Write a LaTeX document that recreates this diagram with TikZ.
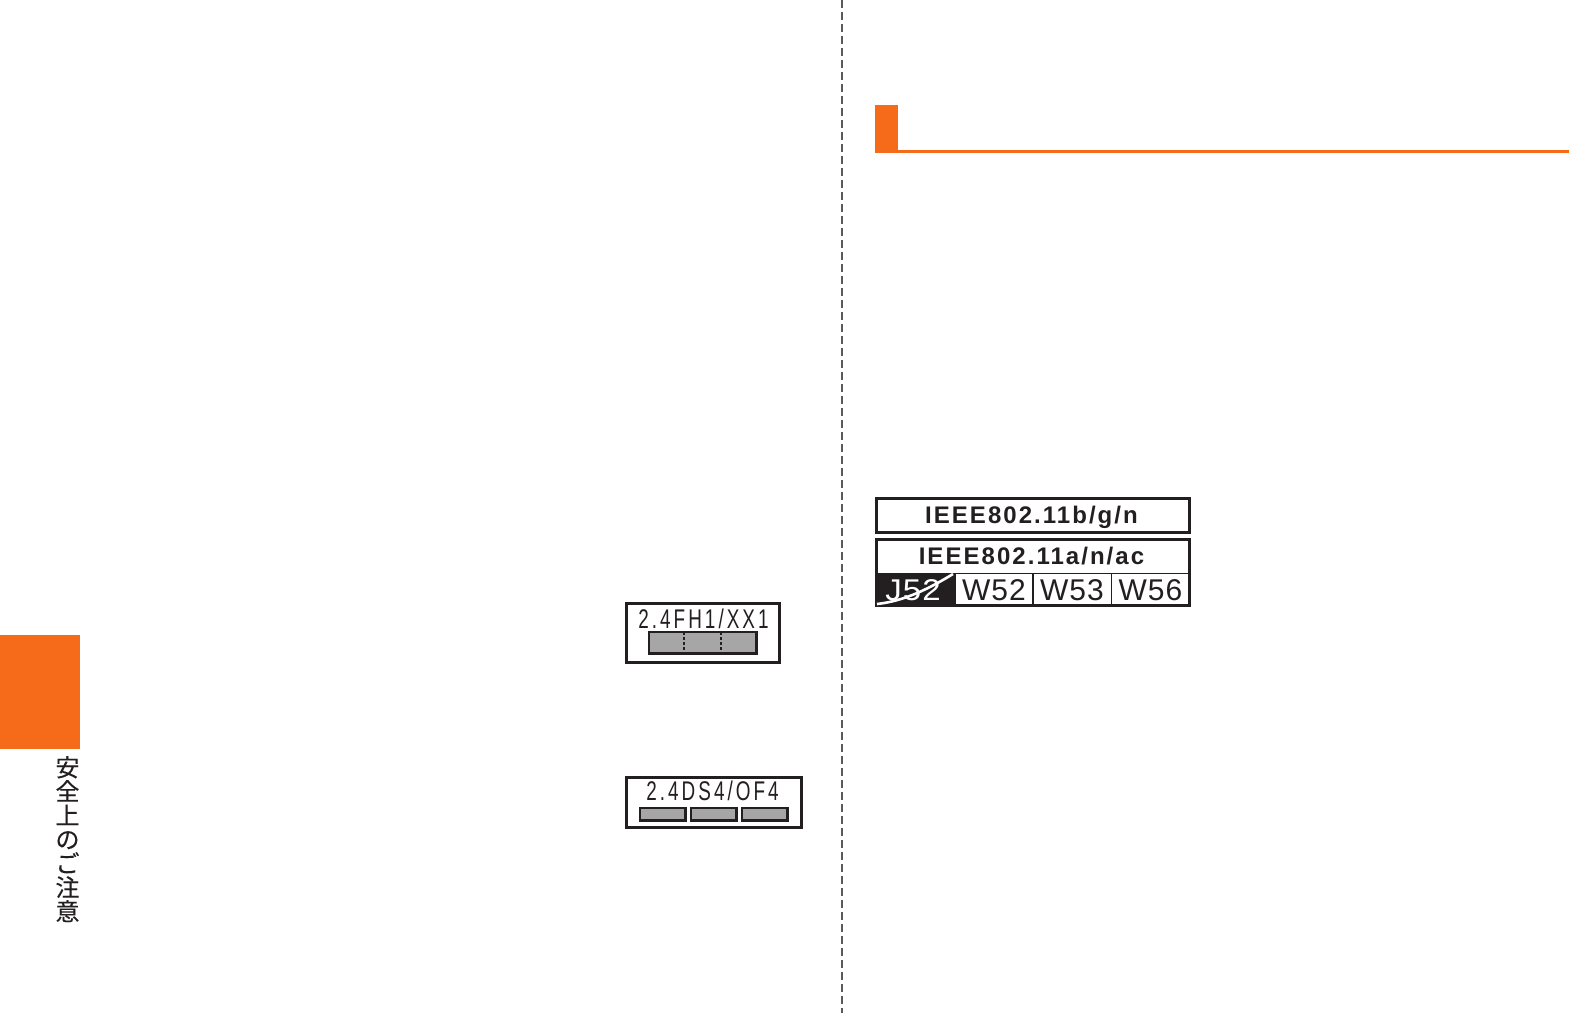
\documentclass[tikz,border=0pt]{standalone}
\usepackage{fontspec}
\setmainfont{Liberation Sans}
\newfontfamily\cjk[FakeBold=0.25]{Noto Sans CJK JP}
\newfontfamily\bandfont[LetterSpace=16]{Liberation Sans}
\newfontfamily\ieeefont[LetterSpace=8.5]{Liberation Sans}
\newfontfamily\wfont[LetterSpace=3.5]{Liberation Sans}
\definecolor{tabor}{HTML}{F56B19}
\definecolor{bargray}{HTML}{A6A6A6}
\definecolor{ink}{HTML}{231F20}
\definecolor{foldgray}{HTML}{5A5A5A}
\tikzset{
  x=1pt,y=-1pt,
  frame/.style={draw=ink,line width=2.6pt,fill=white},
  bar/.style={draw=ink,line width=2.6pt,fill=bargray},
  band/.style={inner sep=0pt,text=ink,font=\fontsize{27}{27}\bandfont,xscale=0.70,anchor=base},
  ieee/.style={inner sep=0pt,text=ink,font=\fontsize{24}{24}\ieeefont\bfseries,anchor=base},
  wlabel/.style={inner sep=0pt,text=ink,font=\fontsize{30}{30}\wfont,anchor=base},
  rule/.style={draw=ink,line width=1.8pt},
}
\begin{document}
\begin{tikzpicture}
\useasboundingbox (0,0) rectangle (1569,1013);
\fill[white] (0,0) rectangle (1569,1013);
% fold line
\draw[draw=foldgray,line width=1.7pt,dash pattern=on 8pt off 4pt] (841.7,0) -- (841.7,1013);
% heading block
\fill[tabor] (875,105) rectangle (898,153);
\fill[tabor] (898,150) rectangle (1569,153);
% side tab
\fill[tabor] (0,634.6) rectangle (80,748.6);
\node[inner sep=0pt,anchor=north,text=ink,align=center,font=\fontsize{24}{24}\cjk] (tab) at (67.5,756) {安\\全\\上\\の\\ご\\注\\意};
% FH band label
\draw[frame] (626.3,603.3) rectangle (779.7,662.6);
\node[band] (fh) at (703.5,628) {2.4FH1/XX1};
\draw[bar] (649,632) rectangle (756.5,653.4);
\draw[draw=ink,line width=1.8pt,dash pattern=on 3pt off 2pt] (684,632) -- (684,653);
\draw[draw=ink,line width=1.8pt,dash pattern=on 3pt off 2pt] (721,632) -- (721,653);
% DS/OF band label
\draw[frame] (626.3,777.3) rectangle (801.5,827.2);
\node[band] (ds) at (712.5,800.5) {2.4DS4/OF4};
\draw[bar] (640,808) rectangle (685.5,820.5);
\draw[bar] (691,808) rectangle (736.5,820.5);
\draw[bar] (742,808) rectangle (787.5,820.5);
% IEEE b/g/n
\draw[frame] (876.2,498.3) rectangle (1189.4,532.4);
\node[ieee] (bgn) at (1031.5,523) {IEEE802.11b/g/n};
% IEEE a/n/ac
\draw[frame] (876.2,539.3) rectangle (1189.4,605.2);
\node[ieee] (anac) at (1031.5,564) {IEEE802.11a/n/ac};
\fill[ink] (875,573) rectangle (955.5,606.6);
\draw[rule] (955,573.4) -- (1189,573.4);
\draw[rule] (1032.7,573) -- (1032.7,605);
\draw[rule] (1111.5,573) -- (1111.5,605);
\node[wlabel,text=white,xscale=1.1] (j52) at (913,600) {J52};
\draw[draw=white,line width=2.6pt] (877,604) .. controls (905,601) and (930,588) .. (953,574);
\node[wlabel] (w52) at (994,600.5) {W52};
\node[wlabel] (w53) at (1072,600.5) {W53};
\node[wlabel] (w56) at (1150.5,600.5) {W56};
\end{tikzpicture}
\end{document}
